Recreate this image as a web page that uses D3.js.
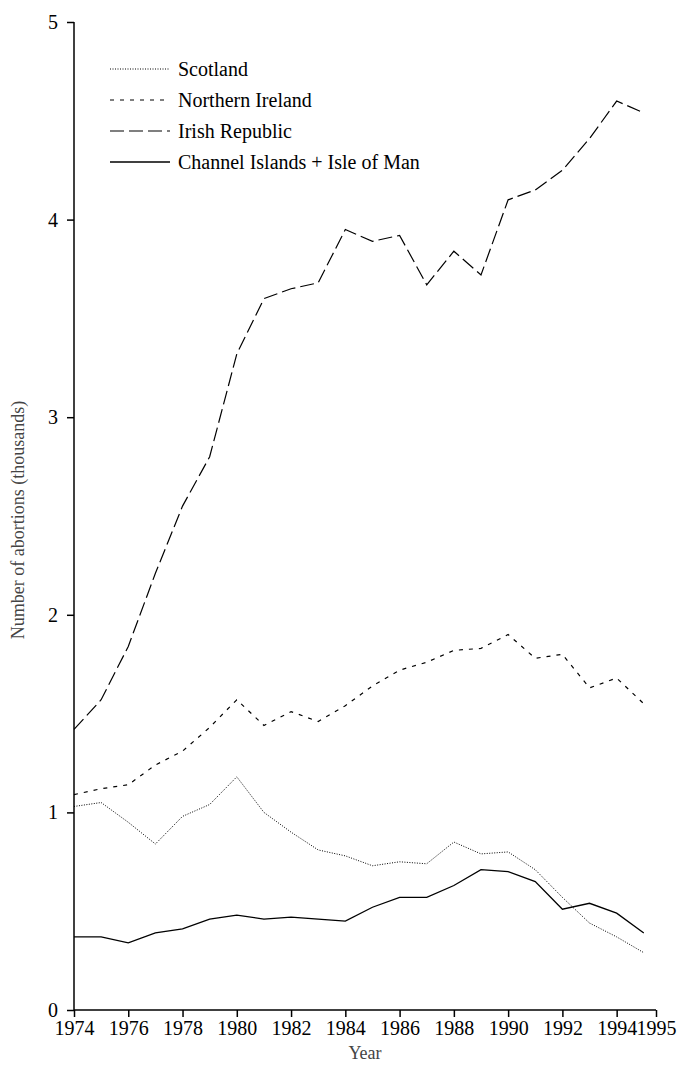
<!DOCTYPE html><html><head><script src="https://cdn.jsdelivr.net/npm/d3@7"></script>
<style>body{margin:0;background:#fff}svg text{font-family:'Liberation Serif','Times New Roman','DejaVu Serif',serif !important}</style></head><body><svg id="c" width="681" height="1066"></svg><script>
const years=d3.range(1974,1996);
const seriesNames=["Scotland","Northern Ireland","Irish Republic","Channel Islands + Isle of Man"];
const scotland=[1.03,1.05,0.95,0.84,0.98,1.04,1.18,1.00,0.90,0.81,0.78,0.73,0.75,0.74,0.85,0.79,0.80,0.71,0.57,0.44,0.37,0.29];
const northernIreland=[1.09,1.12,1.14,1.24,1.31,1.43,1.57,1.44,1.51,1.46,1.54,1.64,1.72,1.76,1.82,1.83,1.90,1.78,1.80,1.63,1.68,1.55];
const irishRepublic=[1.42,1.57,1.84,2.21,2.55,2.80,3.32,3.60,3.65,3.68,3.95,3.89,3.92,3.67,3.84,3.72,4.10,4.15,4.25,4.41,4.60,4.54];
const channel=[0.37,0.37,0.34,0.39,0.41,0.46,0.48,0.46,0.47,0.46,0.45,0.52,0.57,0.57,0.63,0.71,0.70,0.65,0.51,0.54,0.49,0.39];
const xTicks=[1974,1976,1978,1980,1982,1984,1986,1988,1990,1992,1994,1995.45];
const yTicks=[0,1,2,3,4,5];
const svg=d3.select("#c");
const x=d3.scaleLinear().domain([1974,1995.45]).range([74,656]);
const y=d3.scaleLinear().domain([0,5]).range([1010,22]);
const g=svg.append("g");
const xa=g.append("g").attr("transform","translate(0,1010)").call(d3.axisBottom(x).tickValues(xTicks).tickFormat(d=>d>1995?"1995":d).tickSize(7).tickPadding(4));
const ya=g.append("g").attr("transform","translate(74,0)").call(d3.axisLeft(y).tickValues(yTicks).tickFormat(d3.format("d")).tickSize(7).tickPadding(9));
[xa,ya].forEach(a=>{a.attr("font-size",20);a.selectAll("text").attr("fill","#000");a.selectAll("line,path").attr("stroke","#000").attr("stroke-width",1.5);});
xa.select(".domain").attr("d","M74,0H656");
ya.select(".domain").attr("d","M0,1010V22");
svg.append("text").attr("x",365).attr("y",1059).attr("text-anchor","middle").attr("font-size",18).attr("fill","#444").text("Year");
svg.append("text").attr("transform","translate(24,520) rotate(-90)").attr("text-anchor","middle").attr("font-size",18).attr("fill","#444").text("Number of abortions (thousands)");
const data=[scotland,northernIreland,irishRepublic,channel];
const dashes=["1,1.5","4,6","14,5",null];
const widths=[1,1.2,1.2,1.3];
const line=d3.line().x((d,i)=>x(years[i])).y(d=>y(d));
data.forEach((s,k)=>{
 svg.append("path").attr("d",line(s)).attr("fill","none").attr("stroke","#000").attr("stroke-width",widths[k]).attr("stroke-dasharray",dashes[k]);
 const ly=69+k*31;
 svg.append("line").attr("x1",110).attr("x2",170).attr("y1",ly).attr("y2",ly).attr("stroke","#000").attr("stroke-width",widths[k]).attr("stroke-dasharray",dashes[k]);
 svg.append("text").attr("x",178).attr("y",ly+7).attr("font-size",20).text(seriesNames[k]);
});
</script></body></html>
